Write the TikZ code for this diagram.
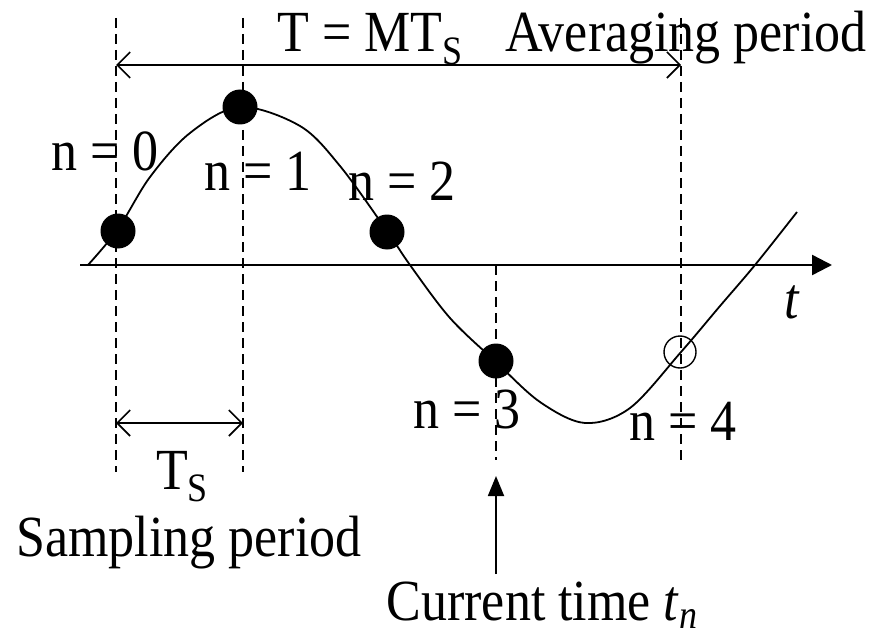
\documentclass[tikz,border=0pt]{standalone}
\usepackage{fontspec}
\usepackage{graphicx}
\setmainfont{Liberation Serif}
\usetikzlibrary{arrows.meta}
\newcommand{\subtxt}[1]{\raisebox{-0.22em}{\fontsize{36}{40}\selectfont #1}}
\newcommand{\vtx}[1]{\scalebox{1}[1.12]{#1}}
\tikzset{
  lbl/.style={font=\fontsize{52}{60}\selectfont, inner sep=0pt, anchor=base},
  guide/.style={line width=1.6pt, dash pattern=on 10pt off 6pt},
  dotfill/.style={circle, fill=black, minimum size=35pt, inner sep=0pt},
  dotopen/.style={circle, draw=black, line width=1.4pt, fill=none, minimum size=32pt, inner sep=0pt},
  dimarrow/.style={line width=1.6pt, {Straight Barb[length=13pt,width=26pt,line width=1.6pt]}-{Straight Barb[length=13pt,width=26pt,line width=1.6pt]}},
  curve/.style={line width=1.8pt}
}
\begin{document}
\begin{tikzpicture}[x=1pt,y=-1pt]
\useasboundingbox (0,0) rectangle (874,639);
% guides
\coordinate (g0t) at (116,18); \coordinate (g0b) at (116,472);
\coordinate (g1t) at (243,18); \coordinate (g1b) at (243,472);
\coordinate (g3t) at (496,265); \coordinate (g3b) at (496,460);
\coordinate (g4t) at (681,18); \coordinate (g4b) at (681,466);
\draw[guide] (g0t) -- (g0b);
\draw[guide] (g1t) -- (g1b);
\draw[guide] (g3t) -- (g3b);
\draw[guide] (g4t) -- (g4b);
% axis
\coordinate (ax0) at (80,265); \coordinate (ax1) at (832,265);
\draw[line width=2.4pt, -{Triangle[length=20pt,width=20pt]}] (ax0) -- (ax1);
% curve
\draw[curve] plot[smooth, tension=0.55] coordinates {(88,265) (118,229) (150,177) (190,133) (240,107) (300,126) (340,166) (387,231) (410,265) (450,318) (496,362) (540,402) (585,423) (630,408) (681,352) (720,306) (755,265) (797,212)};
% dots
\node[dotfill] (d0) at (118,231) {};
\node[dotfill] (d1) at (240,107) {};
\node[dotfill] (d2) at (387,232) {};
\node[dotfill] (d3) at (496,361) {};
\node[dotopen] (d4) at (680,352) {};
% dimension arrows
\coordinate (a0) at (116,65); \coordinate (a1) at (681,65);
\draw[dimarrow] (a0) -- (a1);
\coordinate (s0) at (116,423); \coordinate (s1) at (243,423);
\draw[dimarrow] (s0) -- (s1);
% current time arrow
\coordinate (c0) at (496,574); \coordinate (c1) at (496,476);
\draw[line width=1.8pt, -{Triangle[length=20pt,width=16pt]}] (c0) -- (c1);
% labels
\node[lbl] (lT) at (370,52) {\vtx{T = MT\subtxt{S}}};
\node[lbl] (lAvg) at (686,52) {\vtx{Averaging period}};
\node[lbl] (n0) at (105,170) {\vtx{n = 0}};
\node[lbl] (n1) at (258,190) {\vtx{n = 1}};
\node[lbl] (n2) at (402,200) {\vtx{n = 2}};
\node[lbl] (n3) at (467,428) {\vtx{n = 3}};
\node[lbl] (n4) at (683,440) {\vtx{n = 4}};
\node[lbl] (lt) at (792,318) {\vtx{\itshape t}};
\node[lbl] (lTs) at (182,489) {\vtx{T\subtxt{S}}};
\node[lbl] (lSamp) at (189,556) {\vtx{Sampling period}};
\node[lbl] (lCur) at (542,620) {\vtx{Current time \textit{t}\raisebox{-0.14em}{\fontsize{36}{40}\selectfont\itshape n}}};
\end{tikzpicture}
\end{document}
